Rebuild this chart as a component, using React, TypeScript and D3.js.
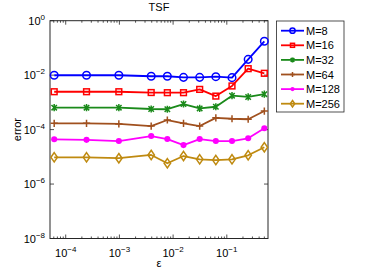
import React, { useEffect, useRef } from "react";
import * as d3 from "d3";

const epsilons = [
  Math.pow(2, -14), Math.pow(2, -12), Math.pow(2, -10), Math.pow(2, -8),
  Math.pow(2, -7), Math.pow(2, -6), Math.pow(2, -5), Math.pow(2, -4),
  Math.pow(2, -3), Math.pow(2, -2), Math.pow(2, -1),
];

const errM8 = [9.9e-3, 9.9e-3, 9.9e-3, 9.1e-3, 9.1e-3, 8.3e-3, 8.3e-3, 8.8e-3, 8.1e-3, 3.8e-2, 1.75e-1];
const errM16 = [2.46e-3, 2.46e-3, 2.46e-3, 2.3e-3, 2.27e-3, 2.27e-3, 3.0e-3, 1.7e-3, 4.0e-3, 1.73e-2, 1.17e-2];
const errM32 = [6.4e-4, 6.4e-4, 6.4e-4, 5.7e-4, 5.6e-4, 8.7e-4, 6.0e-4, 6.9e-4, 1.76e-3, 1.58e-3, 2.0e-3];
const errM64 = [1.7e-4, 1.7e-4, 1.61e-4, 1.35e-4, 2.25e-4, 1.7e-4, 1.35e-4, 2.7e-4, 2.5e-4, 2.4e-4, 4.8e-4];
const errM128 = [4.4e-5, 4.2e-5, 3.8e-5, 5.8e-5, 4.5e-5, 2.7e-5, 4.5e-5, 3.8e-5, 3.8e-5, 4.8e-5, 1.12e-4];
const errM256 = [9.6e-6, 9.6e-6, 8.9e-6, 1.17e-5, 5.8e-6, 1.07e-5, 8.1e-6, 7.6e-6, 8.1e-6, 1.14e-5, 2.24e-5];

const seriesNames = ["M=8", "M=16", "M=32", "M=64", "M=128", "M=256"];
const seriesColors = ["#0000ff", "#ff0000", "#1a8a1a", "#a0501e", "#ff00ff", "#bf8a10"];
const seriesMarkers = ["circle", "square", "star", "plus", "dot", "diamond"];
const yTickExps = [0, -2, -4, -6, -8];
const xTickExps = [-4, -3, -2, -1];

const drawMarker = (g, type, cx, cy, color, s) => {
  if (type === "circle") {
    g.append("circle").attr("cx", cx).attr("cy", cy).attr("r", s * 1.05)
      .attr("fill", "none").attr("stroke", color).attr("stroke-width", 1.5);
  } else if (type === "square") {
    const h = s * 0.8;
    g.append("rect").attr("x", cx - h).attr("y", cy - h).attr("width", 2 * h).attr("height", 2 * h)
      .attr("fill", "none").attr("stroke", color).attr("stroke-width", 1.5);
  } else if (type === "star") {
    const d = s * 0.75;
    g.append("path")
      .attr("d", `M${cx - d},${cy - d}L${cx + d},${cy + d}M${cx - d},${cy + d}L${cx + d},${cy - d}M${cx},${cy - s}L${cx},${cy + s}`)
      .attr("stroke", color).attr("stroke-width", 1.5).attr("fill", "none");
  } else if (type === "plus") {
    g.append("path")
      .attr("d", `M${cx - s},${cy}L${cx + s},${cy}M${cx},${cy - s}L${cx},${cy + s}`)
      .attr("stroke", color).attr("stroke-width", 1.5).attr("fill", "none");
  } else if (type === "dot") {
    g.append("circle").attr("cx", cx).attr("cy", cy).attr("r", s * 0.85).attr("fill", color);
  } else if (type === "diamond") {
    const h = s * 1.3;
    g.append("path")
      .attr("d", `M${cx},${cy - h}L${cx + s * 0.9},${cy}L${cx},${cy + h}L${cx - s * 0.9},${cy}Z`)
      .attr("fill", "none").attr("stroke", color).attr("stroke-width", 1.5);
  }
};

const App = () => {
  const svgRef = useRef(null);

  useEffect(() => {
    const width = 382;
    const height = 273;
    const plot = { left: 50, right: 268, top: 20.7, bottom: 238.5 };
    const font = "'Liberation Sans', Arial, sans-serif";

    const svg = d3.select(svgRef.current)
      .attr("width", width)
      .attr("height", height);
    svg.selectAll("*").remove();

    const x = d3.scaleLog().domain([5.1e-5, 0.585]).range([plot.left, plot.right]);
    const y = d3.scaleLog().domain([1e-8, 1]).range([plot.bottom, plot.top]);

    svg.append("rect").attr("width", width).attr("height", height).attr("fill", "#fff");

    const allSeries = [errM8, errM16, errM32, errM64, errM128, errM256];

    // axis frame
    const ax = svg.append("g").attr("stroke", "#262626").attr("fill", "none");
    ax.append("rect")
      .attr("x", plot.left).attr("y", plot.top)
      .attr("width", plot.right - plot.left).attr("height", plot.bottom - plot.top)
      .attr("stroke-width", 1);

    // x ticks (major + minor), inward at bottom and top
    const xTicks = [];
    for (let k = -5; k <= 0; k++) {
      for (let m = 1; m <= 9; m++) {
        const v = m * Math.pow(10, k);
        if (v >= x.domain()[0] && v <= x.domain()[1]) xTicks.push({ v, major: m === 1 });
      }
    }
    xTicks.forEach(t => {
      const len = t.major ? 4 : 2;
      const px = x(t.v);
      ax.append("line").attr("x1", px).attr("x2", px).attr("y1", plot.bottom).attr("y2", plot.bottom - len).attr("stroke-width", 0.8);
      ax.append("line").attr("x1", px).attr("x2", px).attr("y1", plot.top).attr("y2", plot.top + len).attr("stroke-width", 0.8);
    });

    yTickExps.forEach(e => {
      const py = y(Math.pow(10, e));
      ax.append("line").attr("x1", plot.left).attr("x2", plot.left + 4).attr("y1", py).attr("y2", py).attr("stroke-width", 0.8);
      ax.append("line").attr("x1", plot.right).attr("x2", plot.right - 4).attr("y1", py).attr("y2", py).attr("stroke-width", 0.8);
    });

    // tick labels
    const labels = svg.append("g").attr("font-family", font).attr("fill", "#000");
    xTickExps.forEach(e => {
      const t = labels.append("text")
        .attr("x", x(Math.pow(10, e)))
        .attr("y", 256.5)
        .attr("text-anchor", "middle")
        .attr("font-size", 11);
      t.append("tspan").text("10");
      t.append("tspan").attr("dy", -5).attr("font-size", 8).text(`\u2212${-e}`);
    });
    yTickExps.forEach(e => {
      const t = labels.append("text")
        .attr("x", 45)
        .attr("y", y(Math.pow(10, e)) + 4)
        .attr("text-anchor", "end")
        .attr("font-size", 11);
      t.append("tspan").text("10");
      t.append("tspan").attr("dy", -5).attr("font-size", 8).text(e === 0 ? "0" : `\u2212${-e}`);
    });

    labels.append("text")
      .attr("x", (plot.left + plot.right) / 2).attr("y", 11)
      .attr("text-anchor", "middle").attr("font-size", 11).text("TSF");
    labels.append("text")
      .attr("x", (plot.left + plot.right) / 2).attr("y", 267)
      .attr("text-anchor", "middle").attr("font-size", 11).text("ε");
    labels.append("text")
      .attr("transform", `translate(21, ${(plot.top + plot.bottom) / 2}) rotate(-90)`)
      .attr("text-anchor", "middle").attr("font-size", 11).text("error");

    // lines
    const line = d3.line()
      .x((d, i) => x(epsilons[i]))
      .y(d => y(d));

    allSeries.forEach((vals, si) => {
      const g = svg.append("g");
      g.append("path")
        .datum(vals)
        .attr("fill", "none")
        .attr("stroke", seriesColors[si])
        .attr("stroke-width", 1.8)
        .attr("stroke-linejoin", "round")
        .attr("d", line);
      vals.forEach((v, i) => drawMarker(g, seriesMarkers[si], x(epsilons[i]), y(v), seriesColors[si], 3.6));
    });

    // legend
    const lg = svg.append("g");
    lg.append("rect")
      .attr("x", 276.5).attr("y", 21).attr("width", 67.5).attr("height", 91)
      .attr("fill", "#fff").attr("stroke", "#262626").attr("stroke-width", 0.8);
    seriesNames.forEach((name, i) => {
      const ly = 30.7 + i * 14.6;
      lg.append("line").attr("x1", 281).attr("x2", 304).attr("y1", ly).attr("y2", ly)
        .attr("stroke", seriesColors[i]).attr("stroke-width", 1.8);
      drawMarker(lg, seriesMarkers[i], 292.5, ly, seriesColors[i], 2.5);
      lg.append("text").attr("x", 306).attr("y", ly + 4)
        .attr("font-family", font).attr("font-size", 11).text(name);
    });
  }, []);

  return (
    <svg ref={svgRef} style={{ position: "absolute", left: 0, top: 0 }}></svg>
  );
};

export default App;
